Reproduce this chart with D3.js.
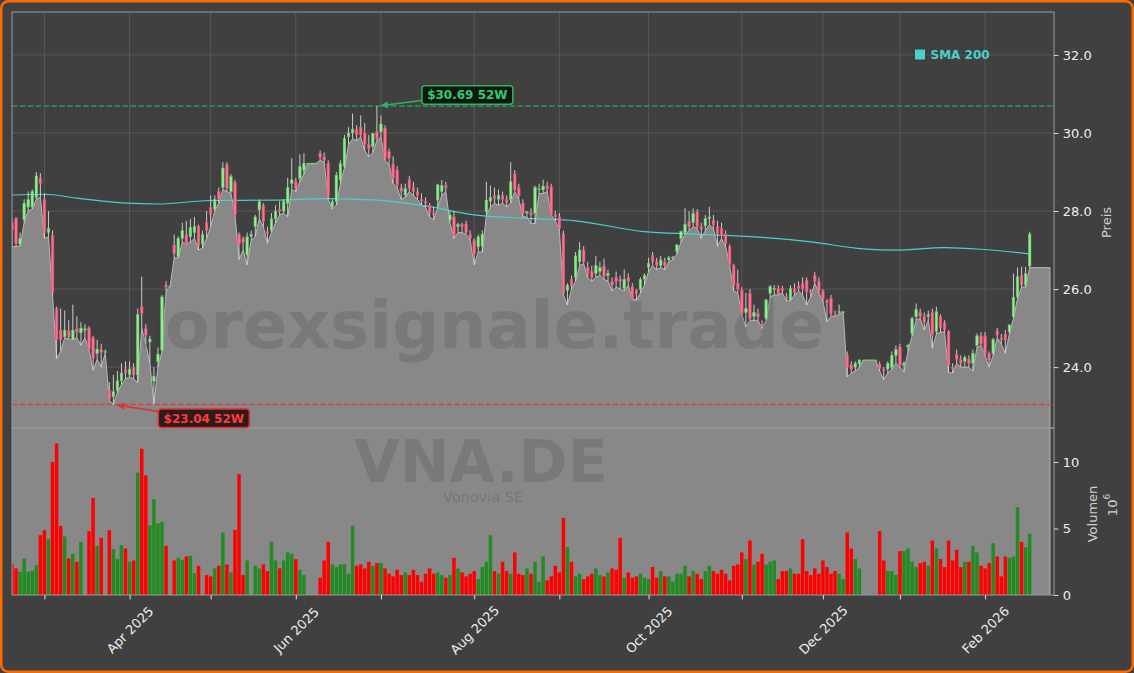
<!DOCTYPE html>
<html><head><meta charset="utf-8">
<script src="https://cdn.jsdelivr.net/npm/d3@7"></script>
<style>
html,body{margin:0;padding:0;background:#404040;}
svg{display:block;}
text{font-family:"DejaVu Sans",sans-serif;}
</style></head><body>
<svg id="c" width="1134" height="673"></svg>
<script>
// ---------- DATA ----------
const startDate = '2025-02-19';
const holidays = ['2025-04-18','2025-04-21','2025-05-01','2025-12-24','2025-12-25','2025-12-26','2025-12-31','2026-01-01'];
const opens = [
27.7,27.81,27.15,27.78,28.1,28.1,28.35,28.85,28.3,27.45,
27.38,25.5,24.95,24.78,24.93,24.7,24.98,24.88,24.95,25.0,
24.75,24.35,24.45,24.38,23.41,23.24,23.4,23.65,23.95,23.8,
24.0,23.8,25.55,24.99,24.65,23.64,24.14,24.44,26.1,26.08,
27.13,26.83,27.3,27.4,27.34,27.45,27.6,27.15,27.7,28.1,
28.05,28.5,28.6,29.18,28.5,28.73,27.4,27.3,26.87,27.35,
27.6,28.03,28.15,27.47,27.5,27.8,28.05,28.0,28.2,28.7,
28.75,28.84,29.05,29.22,29.22,29.22,29.48,29.39,29.22,28.11,
28.24,28.8,29.14,29.9,30.0,30.1,30.15,30.0,29.7,29.65,
30.03,30.03,30.12,29.52,29.2,29.05,28.6,28.41,28.81,28.6,
28.5,28.3,28.25,28.15,27.95,28.28,28.5,28.65,27.77,27.85,
27.6,27.65,27.67,27.4,27.25,27.08,27.1,27.98,28.25,28.4,
28.3,28.4,28.3,28.3,28.96,28.6,28.2,27.95,27.95,27.94,
28.57,28.54,28.64,28.62,27.9,27.85,27.43,25.97,26.25,26.3,
26.7,27.0,26.55,26.45,26.4,26.45,26.59,26.35,26.2,26.3,
26.25,26.02,26.3,26.06,25.97,25.99,26.25,26.56,26.87,26.7,
26.6,26.7,26.75,26.8,26.96,27.3,27.45,27.73,27.7,27.98,
27.6,27.62,27.8,27.77,27.6,27.56,27.41,27.09,26.6,26.15,
25.97,25.4,25.89,25.3,25.37,25.1,25.25,25.89,26.0,26.02,
26.02,25.8,25.72,26.02,26.08,26.15,26.23,25.95,26.35,26.2,
25.95,25.7,25.76,25.35,25.4,25.42,24.3,24.07,24.0,24.08,
24.18,24.18,24.18,24.18,24.07,23.95,23.95,24.0,24.3,24.52,
24.05,24.52,24.86,25.29,25.4,25.3,25.3,25.4,24.91,25.3,
25.14,24.91,24.0,24.33,24.2,24.15,24.2,24.1,24.56,24.8,
24.8,24.35,24.35,24.93,24.75,24.85,24.91,25.29,25.8,26.36,
26.1,26.59];
const highs = [
27.8,27.85,27.45,28.3,28.5,28.55,29.0,28.97,28.45,28.0,
27.5,25.55,25.5,25.45,25.2,25.6,25.3,25.15,25.1,25.05,
24.8,24.7,24.6,24.45,23.62,23.8,23.9,24.1,24.15,24.15,
24.1,25.5,26.32,25.1,24.8,24.0,24.5,25.85,26.2,26.08,
27.4,27.35,27.7,27.75,27.8,27.85,27.65,27.5,28.0,28.4,
28.4,28.6,29.25,29.25,28.95,28.8,27.45,27.35,27.45,27.5,
27.9,28.3,28.2,27.6,27.95,28.15,28.25,28.3,28.85,29.35,
28.85,29.45,29.48,29.22,29.22,29.22,29.55,29.5,29.3,28.3,
29.0,29.3,29.95,30.15,30.5,30.2,30.45,30.25,29.95,30.0,
30.69,30.45,30.2,29.6,29.4,29.15,28.7,28.7,28.9,28.75,
28.6,28.45,28.35,28.2,28.1,28.7,28.8,28.75,28.0,28.0,
27.7,27.7,27.75,27.5,27.3,27.4,27.5,28.75,28.65,28.6,
28.55,28.5,28.4,29.25,29.05,28.7,28.3,28.0,28.07,28.65,
28.7,28.8,28.75,28.7,28.0,27.95,27.5,26.15,26.35,26.95,
27.2,27.1,26.7,26.6,26.85,26.7,26.78,26.5,26.3,26.45,
26.35,26.5,26.4,26.15,26.0,26.3,26.4,26.8,26.95,26.8,
26.85,26.8,26.85,26.85,27.15,27.5,28.07,28.0,28.07,28.05,
27.7,27.9,28.11,27.9,27.75,27.7,27.5,27.15,26.65,26.5,
26.05,25.9,26.0,25.6,25.5,25.2,25.75,26.1,26.1,26.1,
26.08,25.9,26.1,26.15,26.2,26.3,26.3,26.0,26.44,26.3,
26.0,25.75,25.85,25.45,25.6,25.42,24.4,24.15,24.15,24.2,
24.18,24.18,24.18,24.18,24.15,24.0,24.15,24.4,24.55,24.6,
24.15,24.6,25.3,25.63,25.5,25.4,25.45,25.5,25.55,25.35,
25.2,24.95,24.1,24.45,24.3,24.3,24.3,24.45,24.86,24.9,
24.9,24.4,24.75,25.0,24.85,24.95,25.1,26.4,26.55,26.57,
26.57,27.47];
const lows = [
27.08,27.09,27.1,27.7,28.0,28.05,28.3,28.35,27.3,27.34,
25.85,24.22,24.4,24.75,24.72,24.7,24.75,24.56,24.75,24.45,
23.92,24.2,24.0,24.35,23.15,23.04,23.35,23.55,23.7,23.75,
23.7,23.6,25.0,24.6,24.1,23.05,24.0,24.4,25.95,26.08,
26.8,26.8,27.2,27.15,27.2,27.3,27.0,27.05,27.3,27.6,
28.0,28.2,28.55,28.5,28.45,27.9,26.76,27.0,26.62,27.25,
27.35,27.8,27.6,27.17,27.45,27.7,27.9,27.95,27.85,28.55,
28.5,28.75,28.95,29.22,29.22,29.22,29.3,29.25,28.3,28.05,
28.15,28.7,29.1,29.7,29.85,29.8,29.9,29.55,29.39,29.5,
29.8,29.9,29.3,29.2,28.7,28.6,28.3,28.35,28.5,28.4,
28.3,28.15,28.1,27.85,27.77,28.1,28.4,28.5,27.7,27.3,
27.45,27.45,27.4,27.25,26.62,26.95,26.95,27.9,28.1,28.2,
28.15,28.2,28.11,28.2,28.5,28.3,27.85,27.85,27.68,27.68,
28.45,28.45,28.5,27.9,27.75,27.5,25.85,25.59,26.0,26.2,
26.6,26.65,26.3,26.2,26.3,26.35,26.25,26.2,25.95,26.05,
26.0,25.95,26.1,25.75,25.72,25.9,26.1,26.45,26.6,26.5,
26.55,26.5,26.7,26.75,26.9,27.2,27.4,27.5,27.6,27.55,
27.3,27.5,27.65,27.55,27.1,27.3,27.1,26.6,25.95,25.9,
25.35,25.03,25.2,25.2,25.2,24.99,25.2,25.8,25.85,25.85,
25.9,25.7,25.7,25.85,25.95,25.85,25.59,25.8,26.15,25.9,
25.7,25.16,25.3,25.3,25.35,25.42,23.75,23.85,23.9,24.0,
24.18,24.18,24.18,24.18,23.9,23.68,23.85,23.95,24.1,24.0,
23.88,24.4,24.8,25.2,25.25,24.95,25.2,24.48,24.85,24.9,
24.9,23.86,23.85,24.1,24.0,24.0,24.0,23.9,24.5,24.55,
24.3,24.0,24.3,24.75,24.6,24.35,24.85,25.25,25.75,26.05,
26.05,26.55];
const closes = [
27.5,27.17,27.3,28.2,28.3,28.5,28.9,28.7,27.45,27.55,
25.9,24.7,24.7,24.95,24.77,24.95,24.9,25.0,24.98,24.48,
24.22,24.46,24.38,24.4,23.18,23.37,23.65,23.85,23.85,23.95,
23.8,25.35,25.38,24.82,24.72,23.77,24.33,25.8,26.05,26.08,
26.91,27.3,27.5,27.17,27.58,27.6,27.1,27.4,27.5,27.9,
28.3,28.3,29.1,28.58,28.88,27.9,27.15,27.2,27.34,27.4,
27.85,28.24,27.73,27.43,27.8,28.0,28.0,28.25,28.6,28.8,
28.58,29.14,29.22,29.22,29.22,29.22,29.38,29.3,28.37,28.24,
28.92,29.22,29.86,30.0,30.1,29.95,29.95,29.7,29.6,29.99,
29.86,30.23,29.35,29.35,28.85,28.67,28.5,28.58,28.58,28.5,
28.4,28.25,28.2,27.95,27.9,28.67,28.65,28.6,27.9,27.38,
27.65,27.6,27.45,27.3,26.9,27.34,27.4,28.28,28.35,28.32,
28.4,28.3,28.2,28.75,28.54,28.4,27.94,27.98,27.9,28.6,
28.57,28.64,28.58,27.9,27.85,27.56,25.89,26.1,26.08,26.85,
27.0,26.7,26.4,26.3,26.6,26.55,26.32,26.4,26.1,26.19,
26.2,26.25,26.2,25.76,25.89,26.25,26.35,26.66,26.7,26.6,
26.75,26.6,26.8,26.82,27.13,27.47,27.65,27.6,27.94,27.6,
27.53,27.81,27.85,27.64,27.4,27.38,27.17,26.62,26.1,26.0,
25.37,25.5,25.25,25.4,25.29,25.05,25.72,26.06,26.02,25.89,
25.96,25.75,26.02,25.9,26.02,26.0,25.93,25.9,26.2,25.95,
25.75,25.65,25.37,25.33,25.42,25.42,24.0,23.94,24.09,24.18,
24.18,24.18,24.18,24.18,23.97,23.9,24.1,24.3,24.45,24.05,
24.1,24.56,25.25,25.48,25.3,25.15,25.35,24.82,25.42,25.0,
24.95,24.05,23.95,24.2,24.1,24.25,24.1,24.35,24.8,24.6,
24.35,24.18,24.71,24.82,24.7,24.69,25.08,25.79,26.32,26.1,
26.4,27.41];
// volume in millions
const volumes = [
2.37,2.0,1.75,2.75,1.75,1.82,2.25,4.5,4.87,4.2,
10.0,11.4,5.2,4.4,2.75,3.1,2.5,4.0,0,4.8,
7.3,3.7,4.3,0,4.87,3.45,2.7,3.75,3.5,2.5,
2.6,9.2,11.0,9.0,5.25,7.2,5.4,5.5,3.7,0,
2.6,2.8,2.65,2.9,2.95,1.65,2.2,0,1.5,1.4,
2.0,2.2,4.7,2.3,1.7,4.9,9.1,1.5,2.6,0,
2.2,2.0,2.3,1.8,4.0,2.6,2.0,2.6,3.2,3.1,
2.7,1.9,1.5,0,0,0,1.3,2.6,4.0,2.3,
2.1,2.3,2.3,1.6,5.2,2.2,2.3,2.0,2.5,2.2,
2.4,2.4,2.0,1.6,1.4,1.9,1.5,1.7,1.5,1.9,
1.5,1.0,1.6,2.0,1.6,1.7,1.5,1.3,1.5,2.8,
2.0,1.7,1.4,1.6,1.8,1.2,2.1,2.5,4.5,1.8,
1.6,2.5,1.8,1.6,3.2,1.6,1.5,2.0,1.6,2.5,
1.0,2.9,1.1,1.4,2.2,1.7,5.8,3.6,2.5,1.4,
1.6,1.2,1.4,1.6,2.0,1.5,1.4,1.7,2.0,1.9,
4.3,1.3,1.7,1.3,1.4,1.6,1.3,1.2,2.1,1.3,
1.8,1.4,1.4,1.0,1.6,1.6,2.2,1.4,1.8,1.6,
1.2,1.8,2.2,1.8,1.6,1.9,1.6,1.1,2.2,2.3,
3.2,2.7,4.1,2.3,2.5,3.1,2.3,2.5,2.6,1.2,
1.8,1.8,2.0,1.6,1.6,4.2,1.8,1.5,2.0,1.6,
2.6,2.1,1.6,1.8,1.6,1.2,4.7,3.5,2.7,2.0,
0,0,0,0,4.8,2.6,1.8,1.8,1.5,3.3,
3.3,3.5,2.5,2.1,2.4,2.5,2.2,4.1,3.5,2.7,
2.1,4.1,2.6,3.4,2.1,2.5,2.5,3.7,3.2,2.2,
2.0,2.4,3.9,2.9,1.4,2.9,2.8,2.9,6.6,4.0,
3.6,4.6];
const smaIdx = [0,8,16,28,36,49,65,78,90,102,114,127,139,156,168,181,197,210,218,230,239,251];
const smaVal = [28.41,28.43,28.33,28.2,28.18,28.27,28.28,28.32,28.28,28.13,27.9,27.81,27.75,27.47,27.41,27.35,27.21,27.03,27.0,27.06,27.02,26.9];
const priceTicks = [24,26,28,30,32];
const volTicks = [0,5,10];
const high52 = 30.69, low52 = 23.04;
const highLabel = '$30.69 52W', lowLabel = '$23.04 52W';
const legendLabel = 'SMA 200';
const watermark = 'forexsignale.trade', ticker = 'VNA.DE', company = 'Vonovia SE';

// ---------- LAYOUT ----------
const W=1134,H=673, L=12, R=1054, PT=12, PB=428, VB=595;
const fillEnd = 256;
const C = {bg:'#404040', grid:'#5d5d5d', fill:'#888888', fillLine:'#b8b8b8', spine:'#9a9a9a',
  up:'#90ee90', upEdge:'#62c062', dn:'#ff6f8f', dnEdge:'#d9506e', wick:'#dadada',
  vUp:'#228b22', vDn:'#ff0000', sma:'#48d1cc', tick:'#eeeeee', label:'#d0d0d0',
  hi:'#2ecc71', lo:'#ff3b3b'};

// dates (trading days)
const parse=d3.utcParse('%Y-%m-%d'), fmt=d3.utcFormat('%Y-%m-%d');
const n = closes.length;
const dates=[]; let dd=parse(startDate);
while(dates.length<n){const wd=dd.getUTCDay(); if(wd!==0&&wd!==6&&!holidays.includes(fmt(dd))) dates.push(dd); dd=d3.utcDay.offset(dd,1);}
const idx=d3.range(n);
const monthIdx=idx.filter(i=>i>0&&dates[i].getUTCMonth()!==dates[i-1].getUTCMonth());

const x=d3.scaleLinear().domain([0,257]).range([L,R]);
const yP=d3.scaleLinear().domain([22.44,33.10]).range([PB,PT]);
const yV=d3.scaleLinear().domain([0,12.56]).range([VB,PB]);
const step=x(1)-x(0);

const svg=d3.select('#c');
svg.append('rect').attr('width',W).attr('height',H).attr('fill',C.bg);
const defs=svg.append('defs');
defs.append('clipPath').attr('id','cp').append('rect').attr('x',L).attr('y',PT).attr('width',R-L).attr('height',PB-PT);
defs.append('clipPath').attr('id','cv').append('rect').attr('x',L).attr('y',PB).attr('width',R-L).attr('height',VB-PB);

// ---- price panel ----
const gp=svg.append('g').attr('clip-path','url(#cp)');
gp.selectAll('line.hg').data(priceTicks).join('line').attr('x1',L).attr('x2',R)
  .attr('y1',d=>yP(d)).attr('y2',d=>yP(d)).attr('stroke',C.grid).attr('stroke-width',0.8);
gp.selectAll('line.vg').data(monthIdx).join('line').attr('x1',d=>x(d)).attr('x2',d=>x(d))
  .attr('y1',PT).attr('y2',PB).attr('stroke',C.grid).attr('stroke-width',0.8);

const fillPts=idx.map(i=>[i,lows[i]]).concat([[fillEnd,lows[n-1]]]);
gp.append('path').datum(fillPts).attr('fill',C.fill)
  .attr('d',d3.area().x(d=>x(d[0])).y0(PB).y1(d=>yP(d[1])));
const outline=fillPts.map(d=>[x(d[0]),yP(d[1])]).concat([[x(fillEnd),PB]]);
gp.append('path').attr('d',d3.line()(outline)).attr('fill','none').attr('stroke',C.fillLine).attr('stroke-width',1);

// watermark
gp.append('text').attr('x',480).attr('y',348).attr('text-anchor','middle')
  .attr('font-size',66).attr('font-weight','bold').attr('fill','#4a4a4a').attr('fill-opacity',0.24).text(watermark);

// SMA
gp.append('path').datum(smaIdx.map((d,k)=>[d,smaVal[k]]))
  .attr('d',d3.line().curve(d3.curveMonotoneX).x(d=>x(d[0])).y(d=>yP(d[1])))
  .attr('fill','none').attr('stroke',C.sma).attr('stroke-width',1.2);

// 52w lines
gp.append('line').attr('x1',L).attr('x2',R).attr('y1',yP(high52)).attr('y2',yP(high52))
  .attr('stroke','#2ca65a').attr('stroke-width',1.5).attr('stroke-dasharray','5.5,2.4').attr('opacity',0.85);
gp.append('line').attr('x1',L).attr('x2',R).attr('y1',yP(low52)).attr('y2',yP(low52))
  .attr('stroke','#e03a3a').attr('stroke-width',1.5).attr('stroke-dasharray','5.5,2.4').attr('opacity',0.85);

// candles
const cw=step*0.64;
gp.selectAll('line.wick').data(idx).join('line')
  .attr('x1',i=>x(i)).attr('x2',i=>x(i)).attr('y1',i=>yP(highs[i])).attr('y2',i=>yP(lows[i]))
  .attr('stroke',C.wick).attr('stroke-width',0.9);
gp.selectAll('rect.body').data(idx).join('rect')
  .attr('x',i=>x(i)-cw/2).attr('width',cw)
  .attr('y',i=>yP(Math.max(opens[i],closes[i])))
  .attr('height',i=>Math.max(0.9,Math.abs(yP(opens[i])-yP(closes[i]))))
  .attr('fill',i=>closes[i]>=opens[i]?C.up:C.dn)
  .attr('stroke',i=>closes[i]>=opens[i]?C.upEdge:C.dnEdge).attr('stroke-width',0.5);

// ---- volume panel ----
const gv=svg.append('g').attr('clip-path','url(#cv)');
gv.append('rect').attr('x',x(0)).attr('y',PB).attr('width',x(fillEnd)-x(0)).attr('height',VB-PB).attr('fill',C.fill);
gv.append('line').attr('x1',x(fillEnd)).attr('x2',x(fillEnd)).attr('y1',PB).attr('y2',VB).attr('stroke',C.fillLine).attr('stroke-width',1);
gv.append('text').attr('x',481).attr('y',482).attr('text-anchor','middle')
  .attr('font-size',59).attr('font-weight','bold').attr('fill','#4a4a4a').attr('fill-opacity',0.24).text(ticker);
gv.append('text').attr('x',483).attr('y',502).attr('text-anchor','middle')
  .attr('font-size',14.5).attr('fill','#4a4a4a').attr('fill-opacity',0.3).text(company);
const bw=step*0.86;
gv.selectAll('rect.vol').data(idx).join('rect')
  .attr('x',i=>x(i)-bw/2).attr('width',bw)
  .attr('y',i=>yV(volumes[i])).attr('height',i=>yV(0)-yV(volumes[i]))
  .attr('fill',i=>closes[i]>=opens[i]?C.vUp:C.vDn);

// spines
[[PT,PB],[PB,VB]].forEach(([a,b])=>{
  svg.append('rect').attr('x',L).attr('y',a).attr('width',R-L).attr('height',b-a)
    .attr('fill','none').attr('stroke',C.spine).attr('stroke-width',1);
});

// axes
const styleAxis=g=>{g.select('.domain').remove();
  g.selectAll('.tick line').attr('stroke','#dddddd');
  g.selectAll('.tick text').attr('fill',C.tick).attr('font-size',13).attr('font-family','DejaVu Sans');};
svg.append('g').attr('transform',`translate(${R},0)`)
  .call(d3.axisRight(yP).tickValues(priceTicks).tickFormat(d3.format('.1f')).tickSize(4.4).tickPadding(4.4)).call(styleAxis);
svg.append('g').attr('transform',`translate(${R},0)`)
  .call(d3.axisRight(yV).tickValues(volTicks).tickFormat(d3.format('d')).tickSize(4.4).tickPadding(4.4)).call(styleAxis);
const mfmt=d3.utcFormat('%b %Y');
const xa=svg.append('g').attr('transform',`translate(0,${VB})`)
  .call(d3.axisBottom(x).tickValues(monthIdx).tickSize(4.4)
    .tickFormat(i=>dates[i].getUTCMonth()%2===1?mfmt(dates[i]):''));
styleAxis(xa);
xa.selectAll('.tick text').attr('y',0).attr('dy',null).attr('text-anchor','middle')
  .attr('dominant-baseline','central').attr('transform','translate(0,35) rotate(-45)');

// axis labels
svg.append('text').attr('transform','translate(1106.5,222.5) rotate(-90)').attr('text-anchor','middle')
  .attr('dominant-baseline','central').attr('font-size',13).attr('fill',C.label).text('Preis');
svg.append('text').attr('transform','translate(1092.5,514) rotate(-90)').attr('text-anchor','middle')
  .attr('dominant-baseline','central').attr('font-size',13).attr('fill',C.label).text('Volumen');
const t6=svg.append('text').attr('transform','translate(1112,505) rotate(-90)').attr('text-anchor','middle')
  .attr('dominant-baseline','central').attr('font-size',13).attr('fill',C.label);
t6.append('tspan').text('10');
t6.append('tspan').attr('font-size',9).attr('dy',-5).text('6');

// legend
svg.append('rect').attr('x',915).attr('y',49.5).attr('width',10).attr('height',10).attr('fill',C.sma);
svg.append('text').attr('x',930.5).attr('y',58.5).attr('font-size',12).attr('font-weight','bold').attr('fill',C.sma).text(legendLabel);

// annotations
function annotate(i,v,label,col,stroke,bgc,dx,dy){
  const px=x(i),py=yP(v);
  const g=svg.append('g');
  const t=g.append('text').attr('font-size',12).attr('font-weight','bold').attr('fill',col).text(label);
  const tw=t.node().getComputedTextLength();
  const bx=px+dx, by=py+dy, bwid=tw+10.5, bh=18.5;
  const cx=bx+bwid/2, cy=by+bh/2;
  const ex=bx, ey=cy+(py-cy)*(cx-bx)/(cx-px);
  const ang=Math.atan2(py-ey,px-ex);
  const tx=px-3*Math.cos(ang), ty=py-3*Math.sin(ang);
  const hl=8, hw=3.2;
  const bxh=tx-hl*Math.cos(ang), byh=ty-hl*Math.sin(ang);
  g.insert('line','text').attr('x1',ex).attr('y1',ey).attr('x2',bxh).attr('y2',byh).attr('stroke',stroke).attr('stroke-width',1.6);
  g.insert('path','text').attr('d',`M${tx},${ty}L${bxh-hw*Math.sin(ang)},${byh+hw*Math.cos(ang)}L${bxh+hw*Math.sin(ang)},${byh-hw*Math.cos(ang)}Z`).attr('fill',stroke);
  g.insert('rect','text').attr('x',bx).attr('y',by).attr('width',bwid).attr('height',bh).attr('rx',3)
    .attr('fill',bgc).attr('fill-opacity',0.85).attr('stroke',stroke).attr('stroke-width',1.5);
  t.attr('x',bx+5.25).attr('y',cy+4.3);
}
annotate(idx[highs.indexOf(d3.max(highs))],high52,highLabel,C.hi,'#2fb35e','#061208',45,-20.4);
annotate(idx[lows.indexOf(d3.min(lows))],low52,lowLabel,C.lo,'#e03030','#1c0808',45,4.4);

// outer border
svg.append('rect').attr('x',1.25).attr('y',1.25).attr('width',W-2.5).attr('height',H-2.5).attr('rx',7)
  .attr('fill','none').attr('stroke','#ff6a00').attr('stroke-width',2.5);
</script>
</body></html>
